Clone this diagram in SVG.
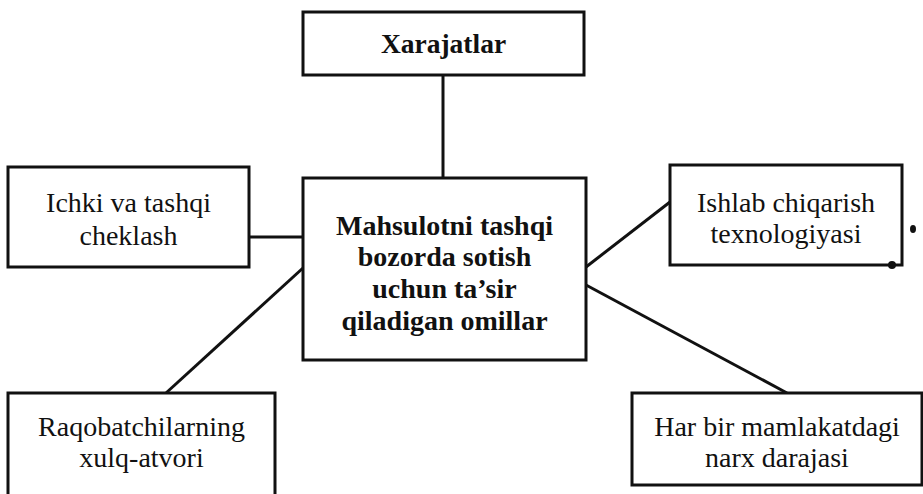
<svg xmlns="http://www.w3.org/2000/svg" width="923" height="494" viewBox="0 0 923 494">
<style>
.box{fill:#fff;stroke:#111;stroke-width:3}
.ln{stroke:#111;stroke-width:3;fill:none}
.t{font-family:"Liberation Serif","Times New Roman",serif;font-size:28px;fill:#111;text-anchor:middle}
.b{font-weight:bold;font-size:28px}
</style>
<rect width="923" height="494" fill="#fff"/>
<g id="connectors">
<line class="ln" x1="443" y1="75" x2="443" y2="178"/>
<line class="ln" x1="249" y1="237" x2="303" y2="237"/>
<line class="ln" x1="303" y1="268" x2="166" y2="393"/>
<line class="ln" x1="586" y1="267" x2="670" y2="202"/>
<line class="ln" x1="586" y1="285" x2="787" y2="393"/>
</g>
<g id="n-xarajatlar">
<rect class="box" x="303" y="12" width="281" height="63"/>
<text class="t b" x="443.5" y="53" style="font-size:27.5px">Xarajatlar</text>
</g>
<g id="n-center">
<rect class="box" x="303" y="178" width="283" height="182"/>
<text class="t b" x="444.5" y="235">Mahsulotni tashqi</text>
<text class="t b" x="444.5" y="266">bozorda sotish</text>
<text class="t b" x="444.5" y="298">uchun ta’sir</text>
<text class="t b" x="444.5" y="330">qiladigan omillar</text>
</g>
<g id="n-ichki">
<rect class="box" x="8" y="167" width="241" height="100"/>
<text class="t" x="128.5" y="212">Ichki va tashqi</text>
<text class="t" x="128.5" y="245">cheklash</text>
</g>
<g id="n-ishlab">
<rect class="box" x="670" y="165" width="232" height="100"/>
<text class="t" x="786" y="212">Ishlab chiqarish</text>
<text class="t" x="786" y="243">texnologiyasi</text>
<circle cx="892" cy="265" r="4" fill="#111"/>
<ellipse cx="913" cy="229" rx="3" ry="4" fill="#111"/>
</g>
<g id="n-raqobat">
<path class="box" d="M8,500 V393 H275 V500"/>
<text class="t" x="141.5" y="436">Raqobatchilarning</text>
<text class="t" x="141.5" y="467">xulq-atvori</text>
</g>
<g id="n-harbir">
<rect class="box" x="632" y="393" width="290" height="92"/>
<text class="t" x="777" y="436">Har bir mamlakatdagi</text>
<text class="t" x="777" y="467">narx darajasi</text>
</g>
</svg>
